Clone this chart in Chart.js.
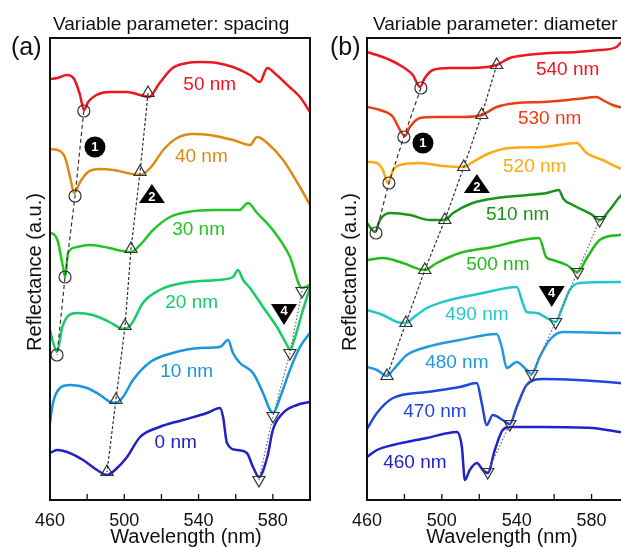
<!DOCTYPE html>
<html>
<head>
<meta charset="utf-8">
<script src="https://cdn.jsdelivr.net/npm/chart.js@4.4.1/dist/chart.umd.min.js"></script>
<style>
  html, body { margin: 0; padding: 0; background: #fff; overflow: hidden; width: 621px; height: 547px; }
  #wrap { position: relative; width: 621px; height: 547px; overflow: hidden; }
  canvas { position: absolute; top: 0; }
  #chartA { left: 0; }
  #chartB { left: 320px; }
</style>
</head>
<body>
<div id="wrap">
  <canvas id="chartA" width="320" height="547"></canvas>
  <canvas id="chartB" width="320" height="547"></canvas>
</div>
<script>
// reflectance spectra, [wavelength nm, offset reflectance a.u.]
// panel (a): variable spacing
const spacingNames = ['50 nm', '40 nm', '30 nm', '20 nm', '10 nm', '0 nm'];
const spacing50 = [[460,421],[464,422],[469,425],[473,421],[476,406],[478.3,390],[480.5,398],[485,405],[492,408],[501.5,408],[508.5,405],[513.3,403],[519,417],[526,432],[534,437],[541,438],[550,437],[558.5,433],[567.7,425],[573,418],[577,432],[582,425],[589,413],[594.6,403],[600,388]];
const spacing40 = [[460,351],[464,350],[468,343],[470.8,323],[473,307],[476.2,318],[480.5,328],[487,331],[494,330],[501.5,327],[508.5,325],[514,332],[521,350],[528.4,362],[537,366],[546,365],[558.5,360],[567.7,355],[571.5,363],[577,357],[585.5,340],[594.6,313],[600,295]];
const spacing30 = [[460,268],[464,260],[467,233],[468.2,223],[469.7,247],[474.5,253],[481.5,255],[492,252],[499,249],[503.6,248],[508.5,255],[515.5,270],[524.6,283],[534,288],[548,290],[562,290],[566.6,297],[571.5,287],[580,270],[589,244],[595.7,212],[600,215]];
const spacing20 = [[460,170],[461.6,158],[463.8,148],[466.5,172],[469.2,183],[474.5,187],[483,185],[492,178],[497.7,172],[500.4,171],[504.2,177],[510,197],[519,210],[531.6,217],[550,220],[558.5,223],[561.2,230],[564,220],[567.7,212],[574.7,193],[582.2,173],[587.6,155],[589.2,150],[592,163],[595.7,187],[598.4,203],[600,212]];
const spacing10 = [[460,77],[461.6,97],[465.4,112],[470.8,115],[480,112],[487,105],[492.3,98],[495.5,97],[499.3,103],[504.7,120],[514,138],[526,147],[541,152],[551.5,153],[555.9,160],[558.5,147],[562.3,137],[569.3,127],[574.7,107],[578.5,90],[580.1,87],[584,103],[589.2,130],[594.6,153],[600,167]];
const spacing0 = [[460,47],[463.8,50],[469.2,48],[477.8,40],[485.3,30],[490.7,25],[495,30],[501.5,43],[508.5,63],[519,73],[531.6,80],[544.5,87],[551.5,92],[553.2,83],[555.3,57],[560.7,50],[566,47],[569.3,33],[572.5,23],[577,43],[580,70],[585.5,87],[593,95],[600,98]];
// marked dips (1: circles, 2: triangles, 4: inverted triangles)
const spacingDip1 = [[478.2,389],[473.5,304],[468.1,223],[463.8,145]];
const spacingDip2 = [[512.8,407],[508.5,328],[503.6,251],[500.4,174],[495.5,100],[490.7,28]];
const spacingDip4 = [[572.5,20],[580.1,84],[589.2,147],[595.7,209]];

// panel (b): variable diameter
const diameterNames = ['540 nm', '530 nm', '520 nm', '510 nm', '500 nm', '490 nm', '480 nm', '470 nm', '460 nm'];
const diameter540 = [[460,448],[465.3,445],[472.3,440],[479.2,433],[484.5,425],[488.3,413],[490.9,422],[495.2,430],[504.3,432],[515,432],[524,433],[529.3,435],[536.3,442],[545.3,445],[557.6,447],[572,448],[584.3,450],[593.3,453],[596,458],[600,460]];
const diameter530 = [[460,393],[466.9,390],[473.9,383],[477.6,370],[480.3,364],[482.9,373],[488.3,382],[497.3,383],[511.2,383],[521.3,385],[529.3,393],[540,397],[553.9,398],[572,401],[582.7,403],[585.9,400],[591.2,395],[594.9,393],[600,392]];
const diameter520 = [[460,338],[465.3,337],[468.5,330],[471.2,317],[473.9,330],[477.6,335],[488.3,337],[500.5,334],[511.7,333],[516.5,338],[525.6,347],[536.3,352],[553.9,353],[572,357],[577.3,347],[585.9,340],[594.9,332],[600,330]];
const diameter510 = [[460,277],[464.3,268],[466.9,280],[472.3,287],[483,285],[493.6,280],[501.6,280],[506,287],[516.5,297],[529.3,302],[546,305],[556,307],[562.5,310],[565,301],[570,295],[580.5,285],[584.3,280],[589.6,290],[594.9,303],[600,312]];
const diameter500 = [[460,240],[468.5,242],[479.2,237],[490.9,230],[497.3,237],[509.6,247],[527.2,253],[543.2,260],[552,262],[555.7,243],[559.2,240],[566.7,235],[572.5,228],[577.8,243],[584.3,260],[594.9,265],[600,266]];
const diameter490 = [[460,190],[468.5,185],[476,178],[480.8,177],[484.5,182],[492,192],[504.3,200],[522,207],[540,213],[543.2,197],[545.3,188],[550.7,187],[556,182],[560.8,178],[564.5,193],[568.3,210],[573.6,217],[594.9,218],[600,218]];
const diameter480 = [[460,133],[465.3,130],[470.7,124],[473.9,130],[481.3,145],[492,153],[509.6,160],[529.3,166],[532,153],[534.7,132],[540,138],[545.3,130],[548,126],[552.3,143],[557.6,160],[564.5,168],[594.9,167],[600,167]];
const diameter470 = [[460,71],[465.3,87],[473.9,102],[492,108],[509.6,113],[518.7,117],[521.3,97],[524,75],[527.2,85],[532.5,80],[536.3,76],[540,93],[545.3,115],[553.9,121],[572,120],[594.9,117],[600,116]];
const diameter460 = [[460,43],[465.3,50],[473.9,55],[492,62],[508,68],[510.7,53],[512.3,20],[514.9,30],[518.7,37],[521.9,30],[524.5,27],[528.3,50],[532.5,70],[536.3,73],[554,73],[580.5,72],[594.9,68],[600,67]];
const diameterDip1 = [[488.8,412],[479.7,363],[471.7,317],[464.8,267]];
const diameterDip2 = [[529.3,435],[521.3,385],[511.7,333],[501.6,280],[490.9,230],[480.8,177],[470.7,124]];
const diameterDip4 = [[524.5,28],[536.3,76],[548,126],[560.8,178],[572.5,228],[584.3,280]];

const xTicksLabelled = [460, 500, 540, 580];

// styling / annotation placement
const FONT = '"Liberation Sans", Arial, sans-serif';
const spacingColors = ['#ee1620', '#dc8a12', '#22c622', '#16cc66', '#1a96dc', '#2020c4'];
const diameterColors = ['#ee1620', '#ee3c12', '#ffaa12', '#1a941a', '#22bb1a', '#22c8c8', '#2299dd', '#2246dd', '#2222cc'];
const spacingNameAt = [[546,415],[541.5,343],[540,270],[536.3,197],[533.6,128],[527.7,57]];
const diameterNameAt = [[567.2,430],[557.6,381],[549.6,333],[540.5,285],[529.9,235],[518.7,185],[508,137],[496.3,88],[485.6,37]];

Chart.defaults.font.family = FONT;

function pts(arr) { return arr.map(p => ({ x: p[0], y: p[1] })); }

function drawBadge(ctx, kind, cx, cy, text) {
  ctx.save();
  ctx.fillStyle = '#000';
  ctx.beginPath();
  if (kind === 'circle') {
    ctx.arc(cx, cy, 10.5, 0, Math.PI * 2);
  } else if (kind === 'up') {
    ctx.moveTo(cx, cy - 11); ctx.lineTo(cx + 13, cy + 8); ctx.lineTo(cx - 13, cy + 8);
  } else {
    ctx.moveTo(cx - 13, cy - 10); ctx.lineTo(cx + 13, cy - 10); ctx.lineTo(cx, cy + 11);
  }
  ctx.closePath();
  ctx.fill();
  ctx.fillStyle = '#fff';
  ctx.font = 'bold 13px ' + FONT;
  ctx.textAlign = 'center';
  ctx.textBaseline = 'middle';
  const dy = kind === 'up' ? 2 : kind === 'down' ? -3 : 0;
  ctx.fillText(text, cx, cy + dy);
  ctx.restore();
}

const decor = {
  id: 'decor',
  afterDatasetsDraw(chart, args, o) {
    const { ctx, chartArea: a } = chart;
    const x = chart.scales.x, y = chart.scales.y;
    ctx.save();
    ctx.strokeStyle = '#111';
    ctx.lineWidth = 2;
    ctx.strokeRect(a.left, a.top, a.right - a.left, a.bottom - a.top);
    ctx.lineWidth = 1.3;
    x.ticks.forEach(t => {
      const px = x.getPixelForValue(t.value);
      ctx.beginPath();
      ctx.moveTo(px, a.bottom);
      ctx.lineTo(px, a.bottom - 6);
      ctx.stroke();
    });
    ctx.textAlign = 'center';
    ctx.textBaseline = 'middle';
    ctx.font = '19px ' + FONT;
    o.names.forEach((n, i) => {
      ctx.fillStyle = o.colors[i];
      ctx.fillText(n, x.getPixelForValue(o.nameAt[i][0]), y.getPixelForValue(o.nameAt[i][1]));
    });
    o.badges.forEach(b => drawBadge(ctx, b.kind, x.getPixelForValue(b.at[0]), y.getPixelForValue(b.at[1]), b.text));

    ctx.fillStyle = '#111';
    ctx.textBaseline = 'alphabetic';
    ctx.textAlign = 'left';
    ctx.font = '19px ' + FONT;
    ctx.fillText(o.title, o.titleX, 30);
    ctx.font = '25px ' + FONT;
    ctx.fillText(o.letter, o.letterX, 55);
    ctx.textAlign = 'center';
    ctx.font = '20px ' + FONT;
    ctx.fillText('Wavelength (nm)', o.xTitleX, 543);
    ctx.translate(o.yTitleX, (a.top + a.bottom) / 2 + 3);
    ctx.rotate(-Math.PI / 2);
    ctx.textBaseline = 'middle';
    ctx.fillText('Reflectance (a.u.)', 0, 0);
    ctx.restore();
  }
};

function makePanel(id, curves, colors, dips, decorOpts, pad) {
  const datasets = [];
  const markerStyles = [
    { style: 'circle', rot: 0, dash: [4, 3], color: '#333' },
    { style: 'triangle', rot: 0, dash: [3, 2], color: '#333' },
    { style: 'triangle', rot: 180, dash: [1.5, 2], color: '#666' }
  ];
  dips.forEach((d, i) => {
    const m = markerStyles[i];
    datasets.push({
      data: pts(d),
      borderColor: m.color,
      borderWidth: 1.2,
      borderDash: m.dash,
      pointStyle: m.style,
      pointRotation: m.rot,
      pointRadius: m.style === 'circle' ? 6 : 7,
      pointBorderColor: '#333',
      pointBorderWidth: 1.2,
      pointBackgroundColor: 'rgba(255,255,255,0)',
      tension: 0,
      order: 1
    });
  });
  curves.forEach((c, i) => {
    datasets.push({
      data: pts(c),
      borderColor: colors[i],
      borderWidth: 2.5,
      pointRadius: 0,
      cubicInterpolationMode: 'monotone',
      order: 2
    });
  });
  return new Chart(document.getElementById(id), {
    type: 'line',
    data: { datasets },
    options: {
      responsive: false,
      animation: false,
      layout: { padding: pad },
      plugins: { legend: { display: false }, tooltip: { enabled: false }, decor: decorOpts },
      scales: {
        x: {
          type: 'linear', min: 460, max: 600,
          grid: { display: false, drawTicks: false },
          border: { display: false },
          ticks: {
            stepSize: 20, padding: 10, color: '#111', maxRotation: 0, autoSkip: false,
            font: { size: 18 },
            callback: v => (xTicksLabelled.includes(v) ? String(v) : '')
          }
        },
        y: { type: 'linear', min: 0, max: 462, display: false }
      }
    },
    plugins: [decor]
  });
}

makePanel('chartA',
  [spacing50, spacing40, spacing30, spacing20, spacing10, spacing0],
  spacingColors,
  [spacingDip1, spacingDip2, spacingDip4],
  {
    names: spacingNames, colors: spacingColors, nameAt: spacingNameAt,
    badges: [
      { kind: 'circle', text: '1', at: [484.2, 353] },
      { kind: 'up', text: '2', at: [514.9, 305] },
      { kind: 'down', text: '4', at: [586, 186] }
    ],
    title: 'Variable parameter: spacing', titleX: 53,
    letter: '(a)', letterX: 11,
    xTitleX: 186, yTitleX: 35
  },
  { top: 38, left: 50, right: 10, bottom: 5.4 }
);

makePanel('chartB',
  [diameter540, diameter530, diameter520, diameter510, diameter500, diameter490, diameter480, diameter470, diameter460],
  diameterColors,
  [diameterDip1, diameterDip2, diameterDip4],
  {
    names: diameterNames, colors: diameterColors, nameAt: diameterNameAt,
    badges: [
      { kind: 'circle', text: '1', at: [489.9, 357] },
      { kind: 'up', text: '2', at: [518.7, 315] },
      { kind: 'down', text: '4', at: [558.7, 204] }
    ],
    title: 'Variable parameter: diameter', titleX: 53,
    letter: '(b)', letterX: 10,
    xTitleX: 182, yTitleX: 30
  },
  { top: 38, left: 47, right: 11, bottom: 5.4 }
);
</script>
</body>
</html>
